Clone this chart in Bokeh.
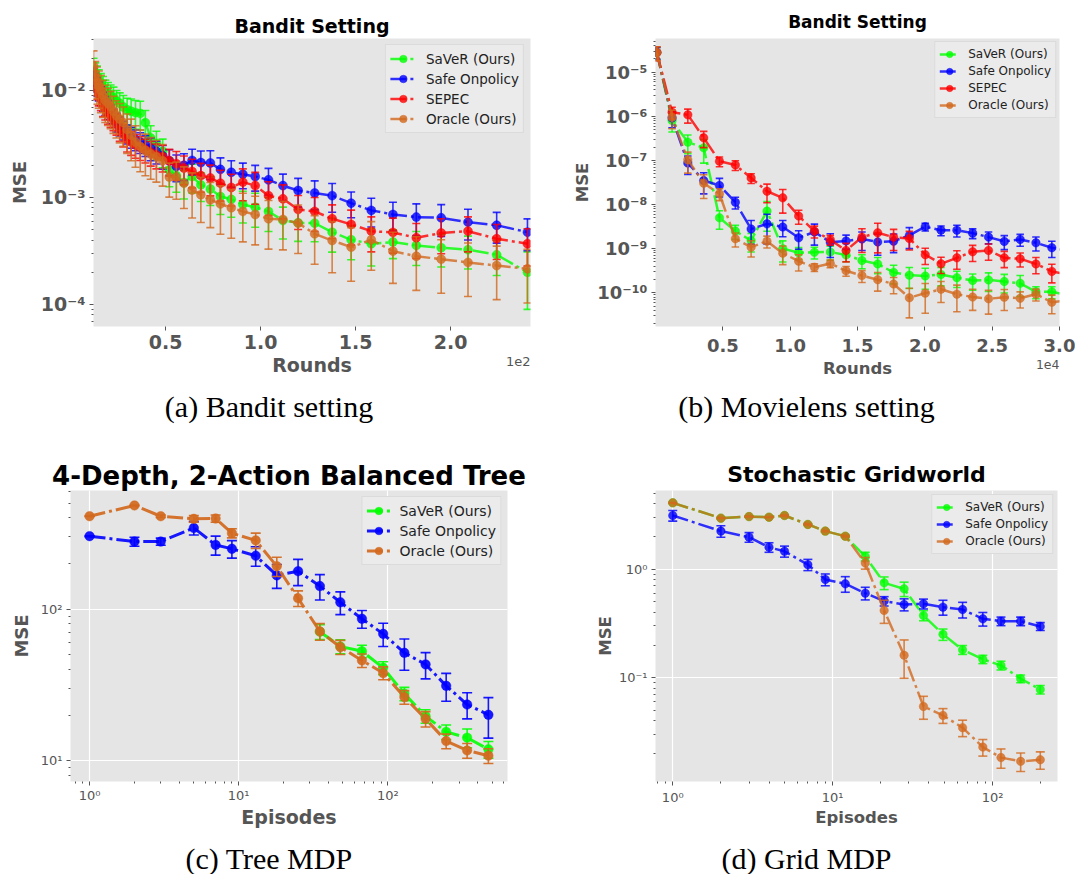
from bokeh.plotting import figure
from bokeh.models import (Range1d, FixedTicker, CustomJSTickFormatter, PrintfTickFormatter,
                          Legend, LegendItem, Label, ColumnDataSource)
from bokeh.layouts import column, row
from bokeh.embed import file_html
from bokeh.resources import INLINE

FONT = "DejaVu Sans"
SERIF = "Liberation Serif"
GRAY = "#555555"
C_SAVER = "#00ff00"
C_ONPOL = "#0000ff"
C_SEPEC = "#ff0000"
C_ORACLE = "#d2691e"
DASH = "16 4 3 4"

# ---------------- (a) Bandit setting ----------------
X_A = [0.120, 0.129, 0.138, 0.148, 0.159, 0.170, 0.182, 0.196, 0.210, 0.225,
       0.241, 0.258, 0.277, 0.297, 0.318, 0.341, 0.366, 0.393, 0.421, 0.451,
       0.484, 0.519, 0.556, 0.596, 0.639, 0.685, 0.735, 0.788, 0.845, 0.906,
       0.971, 1.041, 1.117, 1.197, 1.284, 1.376, 1.476, 1.582, 1.696, 1.819,
       1.950, 2.091, 2.242, 2.404]
SAVER_A = [1.60e-2, 1.45e-2, 1.35e-2, 1.25e-2, 1.15e-2, 1.08e-2, 1.00e-2, 9.5e-3, 9.0e-3, 8.6e-3,
           8.0e-3, 7.6e-3, 7.0e-3, 6.6e-3, 6.4e-3, 6.2e-3, 6.1e-3, 5.0e-3, 3.6e-3, 3.2e-3,
           2.7e-3, 1.8e-3, 1.6e-3, 1.38e-3, 1.57e-3, 1.31e-3, 1.20e-3, 1.02e-3, 9.6e-4, 8.6e-4,
           8.1e-4, 7.4e-4, 6.1e-4, 5.8e-4, 5.75e-4, 4.74e-4, 4.02e-4, 3.69e-4, 3.83e-4, 3.56e-4,
           3.39e-4, 3.25e-4, 2.91e-4, 2.0e-4]
ONPOL_A = [1.35e-2, 1.20e-2, 1.10e-2, 1.00e-2, 9.0e-3, 8.0e-3, 7.3e-3, 6.7e-3, 6.1e-3, 5.6e-3,
           5.1e-3, 4.7e-3, 4.3e-3, 3.95e-3, 3.7e-3, 3.5e-3, 3.3e-3, 3.1e-3, 2.9e-3, 2.7e-3,
           2.45e-3, 2.2e-3, 1.95e-3, 2.0e-3, 2.22e-3, 2.12e-3, 2.1e-3, 1.83e-3, 1.72e-3, 1.65e-3,
           1.57e-3, 1.46e-3, 1.29e-3, 1.16e-3, 1.10e-3, 1.04e-3, 8.85e-4, 7.57e-4, 6.93e-4, 6.55e-4,
           6.45e-4, 5.88e-4, 5.5e-4, 4.74e-4]
SEPEC_A = [1.25e-2, 1.15e-2, 1.05e-2, 9.2e-3, 8.3e-3, 7.3e-3, 6.8e-3, 6.2e-3, 5.8e-3, 5.4e-3,
           4.9e-3, 4.3e-3, 3.9e-3, 3.5e-3, 3.3e-3, 3.1e-3, 2.95e-3, 2.8e-3, 2.65e-3, 2.5e-3,
           2.4e-3, 2.2e-3, 2.07e-3, 1.88e-3, 1.75e-3, 1.6e-3, 1.52e-3, 1.36e-3, 1.24e-3, 1.39e-3,
           1.29e-3, 1.04e-3, 9.7e-4, 7.73e-4, 7.4e-4, 6.32e-4, 5.6e-4, 4.84e-4, 4.71e-4, 4.2e-4,
           4.65e-4, 4.84e-4, 4.11e-4, 3.69e-4]
ORACLE_A = [1.70e-2, 1.35e-2, 1.20e-2, 1.10e-2, 1.00e-2, 9.0e-3, 8.1e-3, 7.6e-3, 7.1e-3, 6.4e-3,
            5.8e-3, 5.4e-3, 5.0e-3, 4.3e-3, 3.8e-3, 3.3e-3, 3.0e-3, 2.75e-3, 2.55e-3, 2.4e-3,
            2.2e-3, 1.55e-3, 1.55e-3, 1.36e-3, 1.17e-3, 1.06e-3, 9.5e-4, 8.7e-4, 8.0e-4, 7.4e-4,
            6.93e-4, 6.32e-4, 6.22e-4, 5.75e-4, 4.57e-4, 3.96e-4, 3.43e-4, 4.02e-4, 3.15e-4, 2.82e-4,
            2.65e-4, 2.47e-4, 2.31e-4, 2.15e-4]
# relative error-bar half lengths
SAVER_A_REL = [0.25, 0.25, 0.25, 0.25, 0.25, 0.25, 0.25, 0.25, 0.25, 0.25,
               0.25, 0.25, 0.28, 0.28, 0.30, 0.30, 0.30, 0.30, 0.30, 0.30,
               0.30, 0.30, 0.30, 0.30, 0.30, 0.30, 0.30, 0.32, 0.32, 0.33,
               0.35, 0.35, 0.33, 0.33, 0.33, 0.35, 0.35, 0.38, 0.30, 0.35,
               0.34, 0.34, 0.36, 0.55]
ONPOL_A_REL = [0.20, 0.20, 0.20, 0.20, 0.20, 0.20, 0.20, 0.20, 0.20, 0.20,
               0.20, 0.20, 0.20, 0.20, 0.22, 0.22, 0.22, 0.22, 0.24, 0.24,
               0.25, 0.27, 0.28, 0.28, 0.27, 0.28, 0.30, 0.28, 0.28, 0.27,
               0.27, 0.28, 0.28, 0.30, 0.30, 0.30, 0.27, 0.30, 0.30, 0.33,
               0.33, 0.32, 0.32, 0.33]
SEPEC_A_REL = [0.22, 0.22, 0.22, 0.22, 0.22, 0.22, 0.22, 0.22, 0.22, 0.22,
               0.22, 0.22, 0.24, 0.24, 0.25, 0.25, 0.25, 0.25, 0.26, 0.26,
               0.28, 0.28, 0.30, 0.30, 0.30, 0.30, 0.32, 0.32, 0.33, 0.33,
               0.33, 0.35, 0.35, 0.35, 0.35, 0.35, 0.36, 0.36, 0.36, 0.36,
               0.36, 0.36, 0.36, 0.38]
ORACLE_A_REL = [0.38, 0.38, 0.38, 0.38, 0.38, 0.38, 0.38, 0.38, 0.38, 0.38,
                0.38, 0.40, 0.40, 0.40, 0.42, 0.42, 0.42, 0.42, 0.42, 0.42,
                0.42, 0.35, 0.38, 0.42, 0.45, 0.45, 0.45, 0.48, 0.48, 0.48,
                0.48, 0.48, 0.48, 0.48, 0.48, 0.50, 0.52, 0.48, 0.50, 0.52,
                0.52, 0.52, 0.52, 0.52]

# ---------------- (b) Movielens setting ----------------
X_B = [0.010, 0.123, 0.240, 0.358, 0.475, 0.593, 0.710, 0.828, 0.945, 1.063,
       1.180, 1.298, 1.415, 1.533, 1.650, 1.768, 1.885, 2.003, 2.120, 2.238,
       2.355, 2.473, 2.590, 2.708, 2.825, 2.943, 3.060]
SAVER_B = [2.8e-5, 8.0e-7, 2.6e-7, 1.93e-7, 5.0e-9, 2.5e-9, 1.53e-9, 7.1e-9, 1.0e-9, 8.1e-10,
           8.3e-10, 8.4e-10, 7.2e-10, 5.4e-10, 4.5e-10, 2.9e-10, 2.5e-10, 2.4e-10, 2.6e-10, 2.2e-10,
           1.9e-10, 1.95e-10, 1.8e-10, 1.64e-10, 1.05e-10, 1.05e-10, 8.9e-11]
ONPOL_B = [2.8e-5, 9.2e-7, 8.7e-8, 3.5e-8, 2.7e-8, 1.13e-8, 2.8e-9, 3.65e-9, 3.1e-9, 1.76e-9,
           2.4e-9, 1.4e-9, 1.5e-9, 1.65e-9, 1.42e-9, 1.48e-9, 2.0e-9, 3.15e-9, 2.62e-9, 2.62e-9,
           2.25e-9, 1.83e-9, 1.46e-9, 1.62e-9, 1.36e-9, 1.05e-9, 9.0e-10]
SEPEC_B = [2.8e-5, 1.24e-6, 1.08e-6, 3.25e-7, 9.6e-8, 7.9e-8, 4.0e-8, 2.0e-8, 1.42e-8, 5.5e-9,
           2.5e-9, 1.6e-9, 9.1e-10, 1.82e-9, 2.29e-9, 1.82e-9, 1.7e-9, 7.3e-10, 4.55e-10, 6.2e-10,
           8.5e-10, 9.1e-10, 6.2e-10, 5.9e-10, 4.5e-10, 3.05e-10, 2.6e-10]
ORACLE_B = [2.8e-5, 9.5e-7, 1.03e-7, 3.05e-8, 1.75e-8, 1.68e-9, 1.08e-9, 1.48e-9, 7.9e-10, 5.2e-10,
            3.8e-10, 4.6e-10, 3.15e-10, 2.45e-10, 1.98e-10, 1.58e-10, 7.7e-11, 9.8e-11, 1.2e-10, 9.3e-11,
            8.0e-11, 7.3e-11, 7.9e-11, 7.5e-11, 9.3e-11, 6.1e-11, 6.8e-11]
SAVER_B_REL = [0.30, 0.45, 0.45, 0.55, 0.45, 0.35, 0.45, 0.65, 0.50, 0.30,
               0.30, 0.35, 0.30, 0.35, 0.40, 0.45, 0.50, 0.50, 0.45, 0.40,
               0.40, 0.45, 0.45, 0.50, 0.30, 0.30, 0.30]
ONPOL_B_REL = [0.30, 0.40, 0.45, 0.50, 0.45, 0.30, 0.55, 0.65, 0.40, 0.45,
               0.50, 0.55, 0.35, 0.45, 0.50, 0.45, 0.50, 0.20, 0.25, 0.30,
               0.25, 0.30, 0.35, 0.30, 0.35, 0.40, 0.40]
SEPEC_B_REL = [0.35, 0.30, 0.35, 0.40, 0.25, 0.25, 0.25, 0.45, 0.55, 0.35,
               0.30, 0.25, 0.45, 0.55, 0.65, 0.50, 0.45, 0.40, 0.40, 0.45,
               0.40, 0.40, 0.40, 0.35, 0.40, 0.45, 0.45]
ORACLE_B_REL = [0.35, 0.45, 0.50, 0.55, 0.30, 0.35, 0.40, 0.30, 0.45, 0.40,
                0.20, 0.20, 0.25, 0.30, 0.45, 0.40, 0.65, 0.65, 0.50, 0.60,
                0.50, 0.55, 0.50, 0.40, 0.30, 0.45, 0.45]

# ---------------- (c) Tree MDP ----------------
X_C = [1, 2, 3, 5, 7, 9, 13, 18, 25, 35, 48, 67, 93, 129, 179, 246, 340, 472]
ONPOL_C = [303, 279, 279, 343, 265, 250, 225, 167, 178, 142, 111, 86.4, 68.7, 51.5, 43.2, 31.2, 23.5, 20.1]
ORACLE_C = [410, 483, 410, 394, 396, 317, 284, 192, 118, 71.3, 56.2, 45.9, 37.9, 26.3, 18.9, 13.5, 11.7, 10.8]
ONPOL_C_ERR = [2, 19, 15, 35, 38, 33, 33, 30, 35, 27, 19, 11.5, 12, 12, 8.5, 6.5, 4.6, 6]
ORACLE_C_ERR = [2, 3, 8, 20, 22, 22, 33, 28, 14, 9, 6, 4.7, 3.7, 2.7, 2.2, 1.5, 1.3, 1.2]
# SaVeR is only visible (not hidden under Oracle) from 35 episodes on
X_C_SAVER = [35, 48, 67, 93, 129, 179, 246, 340, 472]
SAVER_C = [71.0, 56.7, 52.8, 41.0, 27.7, 19.7, 15.5, 14.2, 11.9]
SAVER_C_ERR = [8, 6, 5, 4, 2.8, 2.0, 1.7, 2.0, 1.5]

# ---------------- (d) Grid MDP ----------------
X_D = [1, 2, 3, 4, 5, 7, 9, 12, 16, 21, 28, 37, 49, 65, 87, 113, 150, 199]
SAVER_D = [4.08, 2.95, 3.05, 3.01, 3.12, 2.58, 2.24, 2.01, 1.31, 0.748, 0.659, 0.375, 0.251, 0.181, 0.148, 0.130, 0.098, 0.078]
ONPOL_D = [3.12, 2.24, 1.97, 1.59, 1.46, 1.10, 0.803, 0.733, 0.601, 0.508, 0.473, 0.480, 0.447, 0.425, 0.349, 0.332, 0.332, 0.297]
ORACLE_D = [4.08, 2.95, 3.05, 3.01, 3.12, 2.58, 2.24, 2.01, 1.14, 0.417, 0.161, 0.0545, 0.045, 0.0347, 0.023, 0.0184, 0.017, 0.0176]
SAVER_D_ERR = [0.03, 0.03, 0.03, 0.03, 0.03, 0.03, 0.03, 0.03, 0.12, 0.10, 0.10, 0.04, 0.03, 0.017, 0.013, 0.012, 0.008, 0.007]
ONPOL_D_ERR = [0.35, 0.27, 0.20, 0.16, 0.17, 0.13, 0.10, 0.12, 0.08, 0.05, 0.06, 0.05, 0.07, 0.07, 0.05, 0.03, 0.03, 0.025]
ORACLE_D_ERR = [0.03, 0.03, 0.03, 0.03, 0.03, 0.03, 0.03, 0.03, 0.14, 0.10, 0.062, 0.013, 0.007, 0.006, 0.004, 0.0037, 0.0033, 0.0032]

LABELS = ["SaVeR (Ours)", "Safe Onpolicy", "SEPEC", "Oracle (Ours)"]

SUP_JS = """
const sup = {"-": "\\u207b", "0": "\\u2070", "1": "\\u00b9", "2": "\\u00b2", "3": "\\u00b3",
             "4": "\\u2074", "5": "\\u2075", "6": "\\u2076", "7": "\\u2077", "8": "\\u2078", "9": "\\u2079"};
const e = Math.round(Math.log10(tick));
let s = "";
for (const c of String(e)) { s += sup[c]; }
return "10" + s;
"""


def log_minors(e0, e1, lo, hi):
    out = []
    for e in range(e0, e1 + 1):
        for m in range(2, 10):
            v = m * 10.0 ** e
            if lo <= v <= hi:
                out.append(v)
    return out


def make_fig(w, h, bl, br, bt, bb, xr, yr, xlog, title, tsize, tstand):
    p = figure(width=w, height=h, x_axis_type=("log" if xlog else "linear"), y_axis_type="log",
               x_range=Range1d(*xr), y_range=Range1d(*yr), output_backend="svg",
               toolbar_location=None, min_border_left=bl, min_border_right=br,
               min_border_top=bt, min_border_bottom=bb)
    p.background_fill_color = "#e5e5e5"
    p.border_fill_color = "white"
    p.outline_line_color = None
    p.title.text = title
    p.title.align = "center"
    p.title.text_font = FONT
    p.title.text_font_size = tsize
    p.title.text_font_style = "bold"
    p.title.text_color = "black"
    p.title.standoff = tstand
    return p


def style_axis(ax, label, lab_size, tick_size, bold, standoff, lab_standoff=4):
    ax.axis_label = label
    ax.axis_label_text_font = FONT
    ax.axis_label_text_font_size = lab_size
    ax.axis_label_text_font_style = "bold"
    ax.axis_label_text_color = GRAY
    ax.axis_label_standoff = standoff
    ax.major_label_text_font = FONT
    ax.major_label_text_font_size = tick_size
    ax.major_label_text_font_style = "bold" if bold else "normal"
    ax.major_label_text_color = GRAY
    ax.major_label_standoff = lab_standoff
    ax.axis_line_color = None
    ax.major_tick_line_color = GRAY
    ax.minor_tick_line_color = GRAY
    ax.major_tick_out = 4
    ax.major_tick_in = 0
    ax.minor_tick_out = 2
    ax.minor_tick_in = 0


def add_series(p, x, y, err, color, lw, ms, cap, alpha=0.8):
    lo = [v - e for v, e in zip(y, err)]
    hi = [v + e for v, e in zip(y, err)]
    src = ColumnDataSource(dict(x=x, y=y, lo=lo, hi=hi))
    p.segment(x0="x", y0="lo", x1="x", y1="hi", source=src, line_color=color,
              line_width=1.6, line_alpha=alpha)
    p.scatter(x="x", y="lo", source=src, marker="dash", size=cap, line_color=color,
              line_width=1.6, line_alpha=alpha)
    p.scatter(x="x", y="hi", source=src, marker="dash", size=cap, line_color=color,
              line_width=1.6, line_alpha=alpha)
    ln = p.line(x="x", y="y", source=src, line_color=color, line_width=lw,
                line_dash=DASH, line_alpha=alpha)
    mk = p.scatter(x="x", y="y", source=src, marker="circle", size=ms, fill_color=color,
                   line_color=color, fill_alpha=alpha, line_alpha=alpha, line_width=0.5)
    return [ln, mk]


def add_legend(p, items, fsize, gw, rh, pad, margin, standoff):
    leg = Legend(items=[LegendItem(label=lab, renderers=r) for lab, r in items],
                 location="top_right")
    leg.label_text_font = FONT
    leg.label_text_font_size = fsize
    leg.label_text_color = "#222222"
    leg.glyph_width = gw
    leg.glyph_height = rh
    leg.label_height = rh
    leg.spacing = 1
    leg.padding = pad
    leg.margin = margin
    leg.label_standoff = standoff
    leg.background_fill_color = "#ebebeb"
    leg.background_fill_alpha = 1.0
    leg.border_line_color = "#cccccc"
    leg.border_line_width = 1
    p.add_layout(leg)


def below_label(p, x, y, text, font, size, color, align="center"):
    # a label living in its own panel below the x axis (not clipped to the frame)
    p.add_layout(Label(x=x, y=y, x_units="screen", y_units="screen", text=text,
                       text_align=align, text_baseline="middle", text_font=font,
                       text_font_size=size, text_color=color), "below")


sup_fmt = CustomJSTickFormatter(code=SUP_JS)

# ---------- panel (a) ----------
ya = (6.22e-5, 3.06e-2)
pa = make_fig(537, 440, 93, 7, 38, 114, (0.12, 2.42), ya, False, "Bandit Setting", "19px", 4)
pa.xaxis[0].ticker = FixedTicker(ticks=[0.5, 1.0, 1.5, 2.0])
pa.xaxis[0].formatter = PrintfTickFormatter(format="%.1f")
pa.yaxis[0].ticker = FixedTicker(ticks=[1e-4, 1e-3, 1e-2], minor_ticks=log_minors(-5, -2, *ya))
pa.yaxis[0].formatter = sup_fmt
style_axis(pa.xaxis[0], "Rounds", "19px", "19px", True, 2)
style_axis(pa.yaxis[0], "MSE", "18px", "19px", True, 8)
pa.xgrid.grid_line_color = None
pa.ygrid.grid_line_color = None
ra = []
for y, rel, c in [(SAVER_A, SAVER_A_REL, C_SAVER), (ONPOL_A, ONPOL_A_REL, C_ONPOL),
                  (SEPEC_A, SEPEC_A_REL, C_SEPEC), (ORACLE_A, ORACLE_A_REL, C_ORACLE)]:
    ra.append(add_series(pa, X_A, y, [v * r for v, r in zip(y, rel)], c, 2.5, 9, 8))
add_legend(pa, list(zip(LABELS, ra)), "13.5px", 26, 19, 4, 6, 10)
below_label(pa, 437, 26, "1e2", FONT, "13px", GRAY, align="right")
below_label(pa, 175.5, 14, "(a) Bandit setting", SERIF, "30px", "black")

# ---------- panel (b) ----------
yb = (1.72e-11, 5.81e-5)
pb = make_fig(538, 440, 118, 16, 38, 114, (0.0, 3.0), yb, False, "Bandit Setting", "17px", 13)
pb.xaxis[0].ticker = FixedTicker(ticks=[0.5, 1.0, 1.5, 2.0, 2.5, 3.0])
pb.xaxis[0].formatter = PrintfTickFormatter(format="%.1f")
pb.yaxis[0].ticker = FixedTicker(ticks=[1e-10, 1e-9, 1e-8, 1e-7, 1e-6, 1e-5],
                                 minor_ticks=log_minors(-12, -5, *yb))
pb.yaxis[0].formatter = sup_fmt
style_axis(pb.xaxis[0], "Rounds", "16.5px", "18px", True, 4, lab_standoff=8)
style_axis(pb.yaxis[0], "MSE", "16.5px", "18px", True, 2)
pb.xgrid.grid_line_color = None
pb.ygrid.grid_line_color = None
rb = []
for y, rel, c in [(SAVER_B, SAVER_B_REL, C_SAVER), (ONPOL_B, ONPOL_B_REL, C_ONPOL),
                  (SEPEC_B, SEPEC_B_REL, C_SEPEC), (ORACLE_B, ORACLE_B_REL, C_ORACLE)]:
    rb.append(add_series(pb, X_B, y, [v * r for v, r in zip(y, rel)], c, 2.5, 8.5, 7.5))
add_legend(pb, list(zip(LABELS, rb)), "12px", 20, 16, 4, 3, 9)
below_label(pb, 404, 25.5, "1e4", FONT, "12.5px", GRAY, align="right")
below_label(pb, 151, 16.5, "(b) Movielens setting", SERIF, "30px", "black")

# ---------- panel (c) ----------
xc, yc = (0.745, 634), (7.30, 606)
pc = make_fig(537, 434, 70, 30, 50, 93, xc, yc, True, "4-Depth, 2-Action Balanced Tree", "26px", 0)
pc.xaxis[0].ticker = FixedTicker(ticks=[1, 10, 100], minor_ticks=log_minors(-1, 2, *xc))
pc.yaxis[0].ticker = FixedTicker(ticks=[10, 100], minor_ticks=log_minors(0, 2, *yc))
pc.xaxis[0].formatter = sup_fmt
pc.yaxis[0].formatter = sup_fmt
style_axis(pc.xaxis[0], "Episodes", "19px", "13px", False, 0, lab_standoff=2)
style_axis(pc.yaxis[0], "MSE", "18px", "13px", False, 6)
pc.xgrid.ticker = FixedTicker(ticks=[1, 10, 100])
pc.ygrid.ticker = FixedTicker(ticks=[10, 100])
for g in (pc.xgrid, pc.ygrid):
    g.grid_line_color = "white"
    g.grid_line_width = 1.2
rc = []
for xs, y, err, c, a in [(X_C_SAVER, SAVER_C, SAVER_C_ERR, C_SAVER, 0.9),
                         (X_C, ONPOL_C, ONPOL_C_ERR, C_ONPOL, 0.9),
                         (X_C, ORACLE_C, ORACLE_C_ERR, C_ORACLE, 0.92)]:
    rc.append(add_series(pc, xs, y, err, c, 3, 9.5, 10, a))
add_legend(pc, list(zip([LABELS[0], LABELS[1], LABELS[3]], rc)), "14px", 24, 19, 4, 6, 9)
below_label(pc, 198.5, 5, "(c) Tree MDP", SERIF, "30px", "black")

# ---------- panel (d) ----------
xd, yd = (0.78, 255), (0.01109, 5.30)
pd_ = make_fig(538, 434, 118, 18, 50, 93, xd, yd, True, "Stochastic Gridworld", "22px", 7)
pd_.xaxis[0].ticker = FixedTicker(ticks=[1, 10, 100], minor_ticks=log_minors(-1, 2, *xd))
pd_.yaxis[0].ticker = FixedTicker(ticks=[0.1, 1], minor_ticks=log_minors(-2, 0, *yd))
pd_.xaxis[0].formatter = sup_fmt
pd_.yaxis[0].formatter = sup_fmt
style_axis(pd_.xaxis[0], "Episodes", "16.5px", "13px", False, 0)
style_axis(pd_.yaxis[0], "MSE", "16.5px", "13px", False, 1)
pd_.xgrid.ticker = FixedTicker(ticks=[1, 10, 100])
pd_.ygrid.ticker = FixedTicker(ticks=[0.1, 1])
for g in (pd_.xgrid, pd_.ygrid):
    g.grid_line_color = "white"
    g.grid_line_width = 1.2
rd = []
for y, err, c in [(SAVER_D, SAVER_D_ERR, C_SAVER), (ONPOL_D, ONPOL_D_ERR, C_ONPOL),
                  (ORACLE_D, ORACLE_D_ERR, C_ORACLE)]:
    rd.append(add_series(pd_, X_D, y, err, c, 2.5, 8.5, 9, 0.8))
add_legend(pd_, list(zip([LABELS[0], LABELS[1], LABELS[3]], rd)), "12px", 20, 16, 4, 4, 9)
below_label(pd_, 151, 4, "(d) Grid MDP", SERIF, "30px", "black")

layout = column(row(pa, pb), row(pc, pd_))
open("out.html", "w").write(file_html(layout, INLINE))
